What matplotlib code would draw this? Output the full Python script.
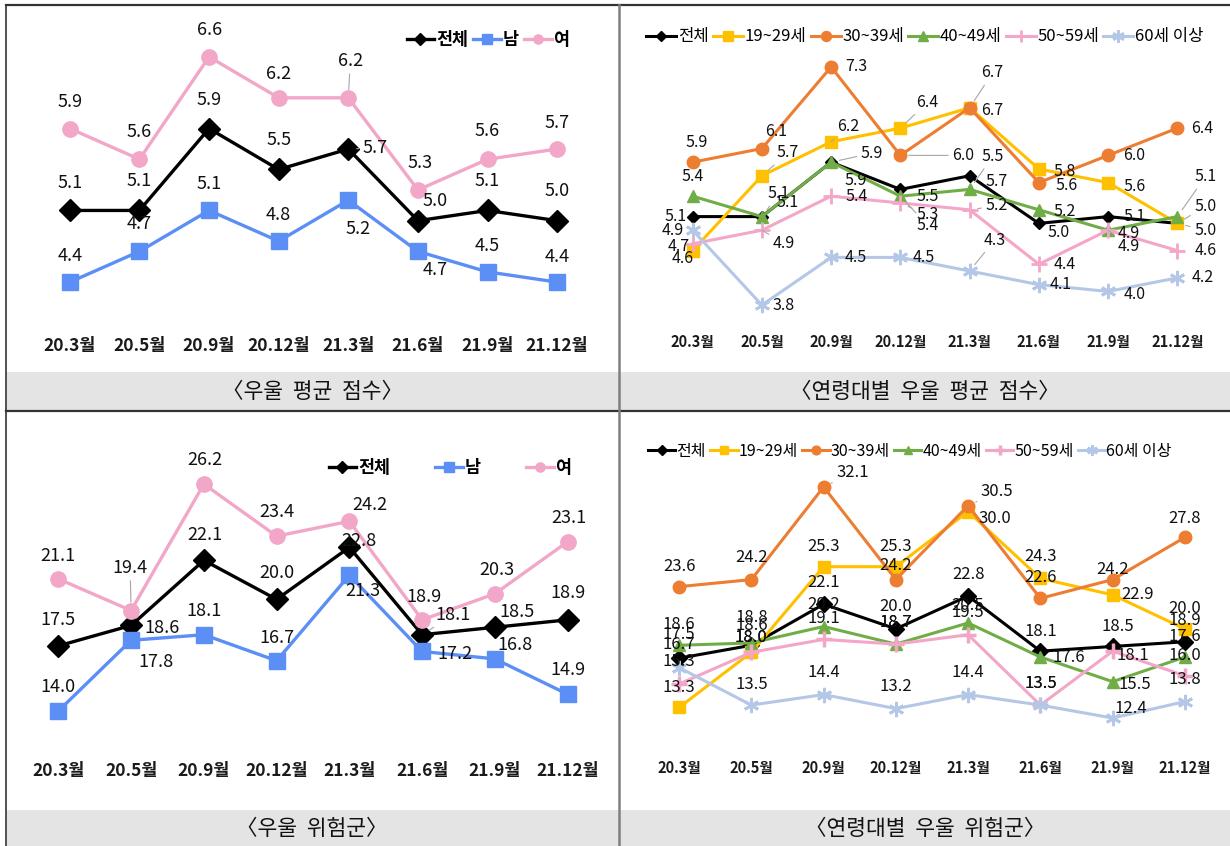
import matplotlib
matplotlib.use('Agg')
import matplotlib.pyplot as plt
from matplotlib.patches import Rectangle
from matplotlib.lines import Line2D

plt.rcParams['font.family'] = ['Noto Sans CJK KR', 'DejaVu Sans']

# ---------------- data ----------------
months = ['20.3월', '20.5월', '20.9월', '20.12월', '21.3월', '21.6월', '21.9월', '21.12월']

sex_names = ['전체', '남', '여']
age_names = ['전체', '19~29세', '30~39세', '40~49세', '50~59세', '60세 이상']

score_total = [5.1, 5.1, 5.9, 5.5, 5.7, 5.0, 5.1, 5.0]
score_male = [4.4, 4.7, 5.1, 4.8, 5.2, 4.7, 4.5, 4.4]
score_female = [5.9, 5.6, 6.6, 6.2, 6.2, 5.3, 5.6, 5.7]

age_score_total = [5.1, 5.1, 5.9, 5.5, 5.7, 5.0, 5.1, 5.0]
age_score_20s = [4.6, 5.7, 6.2, 6.4, 6.7, 5.8, 5.6, 5.0]
age_score_30s = [5.9, 6.1, 7.3, 6.0, 6.7, 5.6, 6.0, 6.4]
age_score_40s = [5.4, 5.1, 5.9, 5.4, 5.5, 5.2, 4.9, 5.1]
age_score_50s = [4.7, 4.9, 5.4, 5.3, 5.2, 4.4, 4.9, 4.6]
age_score_60s = [4.9, 3.8, 4.5, 4.5, 4.3, 4.1, 4.0, 4.2]

risk_total = [17.5, 18.6, 22.1, 20.0, 22.8, 18.1, 18.5, 18.9]
risk_male = [14.0, 17.8, 18.1, 16.7, 21.3, 17.2, 16.8, 14.9]
risk_female = [21.1, 19.4, 26.2, 23.4, 24.2, 18.9, 20.3, 23.1]

age_risk_total = [17.5, 18.6, 22.1, 20.0, 22.8, 18.1, 18.5, 18.9]
age_risk_20s = [13.3, 18.0, 25.3, 25.3, 30.0, 24.3, 22.9, 20.0]
age_risk_30s = [23.6, 24.2, 32.1, 24.2, 30.5, 22.6, 24.2, 27.8]
age_risk_40s = [18.6, 18.8, 20.2, 18.7, 20.5, 17.6, 15.5, 17.6]
age_risk_50s = [15.3, 18.0, 19.1, 18.7, 19.5, 13.5, 18.1, 16.0]
age_risk_60s = [16.7, 13.5, 14.4, 13.2, 14.4, 13.5, 12.4, 13.8]

titles = ['〈우울  평균  점수〉', '〈연령대별  우울  평균  점수〉', '〈우울  위험군〉', '〈연령대별  우울  위험군〉']

# ---------------- styles ----------------
W, H = 1230, 846
fig = plt.figure(figsize=(W / 100, H / 100), dpi=100)
fig.patch.set_facecolor('white')

C_BLACK = '#000000'
C_MALE = '#5b8ff5'
C_FEMALE = '#f2a6c8'
C_20 = '#ffc000'
C_30 = '#ed7d31'
C_40 = '#70ad47'
C_50 = '#f4a6c8'
C_60 = '#b4c7e7'
LEADER = '#a6a6a6'


def axes_px(x0, y0, x1, y1):
    ax = fig.add_axes([x0 / W, 1 - y1 / H, (x1 - x0) / W, (y1 - y0) / H])
    ax.set_facecolor('none')
    for s in ax.spines.values():
        s.set_visible(False)
    ax.set_yticks([])
    ax.set_xlim(-0.5, 7.5)
    return ax


def draw_labels(ax, vals, offs, fs, leaders=()):
    for i, v in enumerate(vals):
        dx, dy = offs[i]
        ap = None
        if i in leaders:
            ap = dict(arrowstyle='-', color=LEADER, lw=0.8, shrinkA=1, shrinkB=6)
        ax.annotate(f'{v:.1f}', xy=(i, v), xytext=(dx * 0.72, dy * 0.72),
                    textcoords='offset points', ha='center', va='center',
                    fontsize=fs, color='#111111', arrowprops=ap, zorder=20)


def style_ticks(ax, fs, pad, bold=True):
    ax.set_xticks(range(len(months)))
    ax.set_xticklabels(months, fontsize=fs, fontweight='bold' if bold else 'normal', color='#1a1a1a')
    ax.tick_params(axis='x', length=0, pad=pad)


x = list(range(len(months)))

# ---------------- panel 1 ----------------
ax1 = axes_px(35, 20, 592, 320)
ax1.set_ylim(4.03, 6.96)
l1a, = ax1.plot(x, score_total, color=C_BLACK, lw=2.4, marker='D', ms=11, label=sex_names[0], zorder=3)
l1b, = ax1.plot(x, score_male, color=C_MALE, lw=2.4, marker='s', ms=11, label=sex_names[1], zorder=4)
l1c, = ax1.plot(x, score_female, color=C_FEMALE, lw=2.4, marker='o', ms=11, label=sex_names[2], zorder=5)
draw_labels(ax1, score_total, [(0, 27), (0, 29), (0, 29), (0, 29), (27, 1), (17, 20), (0, 29), (0, 30)], 13, leaders=(4,))
draw_labels(ax1, score_male, [(0, 26), (0, 27), (0, 26), (0, 26), (10, -29), (17, -19), (0, 26), (0, 25)], 13)
draw_labels(ax1, score_female, [(0, 27), (0, 27), (0, 27), (0, 24), (2, 37), (2, 27), (0, 28), (0, 26)], 13, leaders=(4,))
style_ticks(ax1, 12.5, 12)
fig.legend(handles=[l1a, l1b, l1c], loc='center', bbox_to_anchor=(488 / W, 1 - 40 / H),
           ncol=3, frameon=False, prop={'size': 12.5, 'weight': 'bold'}, handlelength=1.6,
           handletextpad=0.1, columnspacing=0.3, markerscale=0.6)

# ---------------- panel 2 ----------------
ax2 = axes_px(658, 20, 1212, 320)
ax2.set_ylim(3.58, 7.99)
ms2 = 9
l2 = []
l2.append(ax2.plot(x, age_score_total, color=C_BLACK, lw=2.2, marker='D', ms=6, label=age_names[0], zorder=3)[0])
l2.append(ax2.plot(x, age_score_20s, color=C_20, lw=2.2, marker='s', ms=ms2, label=age_names[1], zorder=4)[0])
l2.append(ax2.plot(x, age_score_30s, color=C_30, lw=2.2, marker='o', ms=ms2, label=age_names[2], zorder=5)[0])
l2.append(ax2.plot(x, age_score_40s, color=C_40, lw=2.2, marker='^', ms=ms2, label=age_names[3], zorder=6)[0])
l2.append(ax2.plot(x, age_score_50s, color=C_50, lw=2.2, marker='+', ms=11, mew=2, label=age_names[4], zorder=7)[0])
l2.append(ax2.plot(x, age_score_60s, color=C_60, lw=2.2, marker=(6, 2, 0), ms=11, mew=2, label=age_names[5], zorder=8)[0])
fs2 = 11.5
draw_labels(ax2, age_score_total, [(-17, 0), (17, 23), (41, 9), (27, -7), (27, -6), (20, -9), (26, 0), (28, 17)], fs2, leaders=(1, 2, 7))
draw_labels(ax2, age_score_20s, [(-10, -8), (26, 23), (17, 15), (27, 26), (23, -3), (26, -3), (26, -4), (28, -7)], fs2, leaders=(1, 2, 3, 7))
draw_labels(ax2, age_score_30s, [(4, 20), (14, 17), (25, 0), (63, 0), (23, 35), (28, -3), (26, 0), (25, 0)], fs2, leaders=(3, 4))
draw_labels(ax2, age_score_40s, [(0, 20), (26, 14), (25, -18), (27, -29), (23, 33), (26, -2), (21, -3), (28, 40)], fs2, leaders=(3, 4, 7))
draw_labels(ax2, age_score_50s, [(-14, -3), (22, -13), (25, 0), (27, -12), (27, 4), (26, 0), (21, -16), (28, 0)], fs2, leaders=(1, 3, 4, 6))
draw_labels(ax2, age_score_60s, [(-20, 0), (22, 0), (25, 0), (23, 0), (25, 31), (22, 0), (26, -3), (25, 0)], fs2, leaders=(4,))
style_ticks(ax2, 10.5, 10)
fig.legend(handles=l2, loc='center', bbox_to_anchor=(925 / W, 1 - 37 / H),
           ncol=6, frameon=False, prop={'size': 12}, handlelength=1.8,
           handletextpad=0.1, columnspacing=0.25, markerscale=0.8)

# ---------------- panel 3 ----------------
ax3 = axes_px(22, 440, 604, 745)
ax3.set_ylim(12.17, 28.57)
l3a, = ax3.plot(x, risk_total, color=C_BLACK, lw=2.4, marker='D', ms=11, label=sex_names[0], zorder=3)
l3b, = ax3.plot(x, risk_male, color=C_MALE, lw=2.4, marker='s', ms=11, label=sex_names[1], zorder=4)
l3c, = ax3.plot(x, risk_female, color=C_FEMALE, lw=2.4, marker='o', ms=11, label=sex_names[2], zorder=5)
draw_labels(ax3, risk_total, [(0, 26), (31, -3), (1, 25), (0, 26), (10, 6), (31, 20), (22, 15), (0, 27)], 13, leaders=(5,))
draw_labels(ax3, risk_male, [(0, 24), (25, -22), (0, 24), (0, 23), (14, -16), (33, -3), (20, 14), (0, 24)], 13)
draw_labels(ax3, risk_female, [(0, 23), (-1, 43), (1, 24), (0, 24), (21, 16), (2, 23), (2, 24), (1, 24)], 13, leaders=(1,))
style_ticks(ax3, 12.5, 12)
fig.legend(handles=[l3a, l3b, l3c], loc='center', bbox_to_anchor=(450 / W, 1 - 468 / H),
           ncol=3, frameon=False, prop={'size': 12.5, 'weight': 'bold'}, handlelength=1.6,
           handletextpad=0.1, columnspacing=2.6, markerscale=0.6)

# ---------------- panel 4 ----------------
ax4 = axes_px(643, 440, 1221, 745)
ax4.set_ylim(10.1, 36.1)
l4 = []
l4.append(ax4.plot(x, age_risk_total, color=C_BLACK, lw=2.2, marker='D', ms=8, label=age_names[0], zorder=3)[0])
l4.append(ax4.plot(x, age_risk_20s, color=C_20, lw=2.2, marker='s', ms=ms2, label=age_names[1], zorder=4)[0])
l4.append(ax4.plot(x, age_risk_30s, color=C_30, lw=2.2, marker='o', ms=ms2, label=age_names[2], zorder=5)[0])
l4.append(ax4.plot(x, age_risk_40s, color=C_40, lw=2.2, marker='^', ms=ms2, label=age_names[3], zorder=6)[0])
l4.append(ax4.plot(x, age_risk_50s, color=C_50, lw=2.2, marker='+', ms=11, mew=2.5, label=age_names[4], zorder=7)[0])
l4.append(ax4.plot(x, age_risk_60s, color=C_60, lw=2.2, marker=(6, 2, 0), ms=11, mew=2, label=age_names[5], zorder=8)[0])
fs4 = 12
draw_labels(ax4, age_risk_total, [(0, 24), (0, 20), (0, 22), (0, 22), (0, 22), (0, 20), (5, 20), (0, 21)], fs4)
draw_labels(ax4, age_risk_20s, [(0, 20), (0, 15), (0, 20), (0, 20), (27, -7), (0, 22), (25, 0), (0, 20)], fs4)
draw_labels(ax4, age_risk_30s, [(0, 20), (0, 22), (29, 14), (0, 14), (29, 14), (0, 21), (0, 10), (0, 19)], fs4, leaders=(2, 4))
draw_labels(ax4, age_risk_40s, [(0, 21), (0, 25), (0, 22), (0, 22), (0, 18), (28, 0), (22, -3), (0, 21)], fs4)
draw_labels(ax4, age_risk_50s, [(0, 22), (0, 15), (0, 21), (0, 22), (0, 22), (0, 22), (20, -4), (0, 20)], fs4)
draw_labels(ax4, age_risk_60s, [(0, 23), (0, 21), (0, 22), (0, 22), (0, 22), (0, 22), (18, 10), (0, 22)], fs4)
style_ticks(ax4, 10.5, 11)
fig.legend(handles=l4, loc='center', bbox_to_anchor=(910 / W, 1 - 451 / H),
           ncol=6, frameon=False, prop={'size': 11.5}, handlelength=1.7,
           handletextpad=0.05, columnspacing=0.3, markerscale=0.7)

# ---------------- frames & title bars ----------------
for (ytop, ybot) in [(372, 410), (810, 846)]:
    fig.patches.append(Rectangle((7 / W, 1 - ybot / H), (W - 7) / W, (ybot - ytop) / H,
                                 transform=fig.transFigure, facecolor='#e4e4e4', edgecolor='none', zorder=0))


def hline(y, x0, x1, color, lw):
    fig.add_artist(Line2D([x0 / W, x1 / W], [1 - y / H, 1 - y / H], color=color, lw=lw, transform=fig.transFigure))


def vline(xp, y0, y1, color, lw):
    fig.add_artist(Line2D([xp / W, xp / W], [1 - y0 / H, 1 - y1 / H], color=color, lw=lw, transform=fig.transFigure))


hline(5, 6, W, '#333333', 1.6)
hline(411, 6, W, '#333333', 1.6)
vline(6, 5, H, '#333333', 1.2)
vline(619, 5, H, '#7f7f7f', 1.8)

for t, (cx, cy) in zip(titles, [(312, 392), (925, 392), (312, 829), (925, 829)]):
    fig.text(cx / W, 1 - cy / H, t, ha='center', va='center', fontsize=15.5, color='#111111')

fig.savefig('out.png', dpi=100)
